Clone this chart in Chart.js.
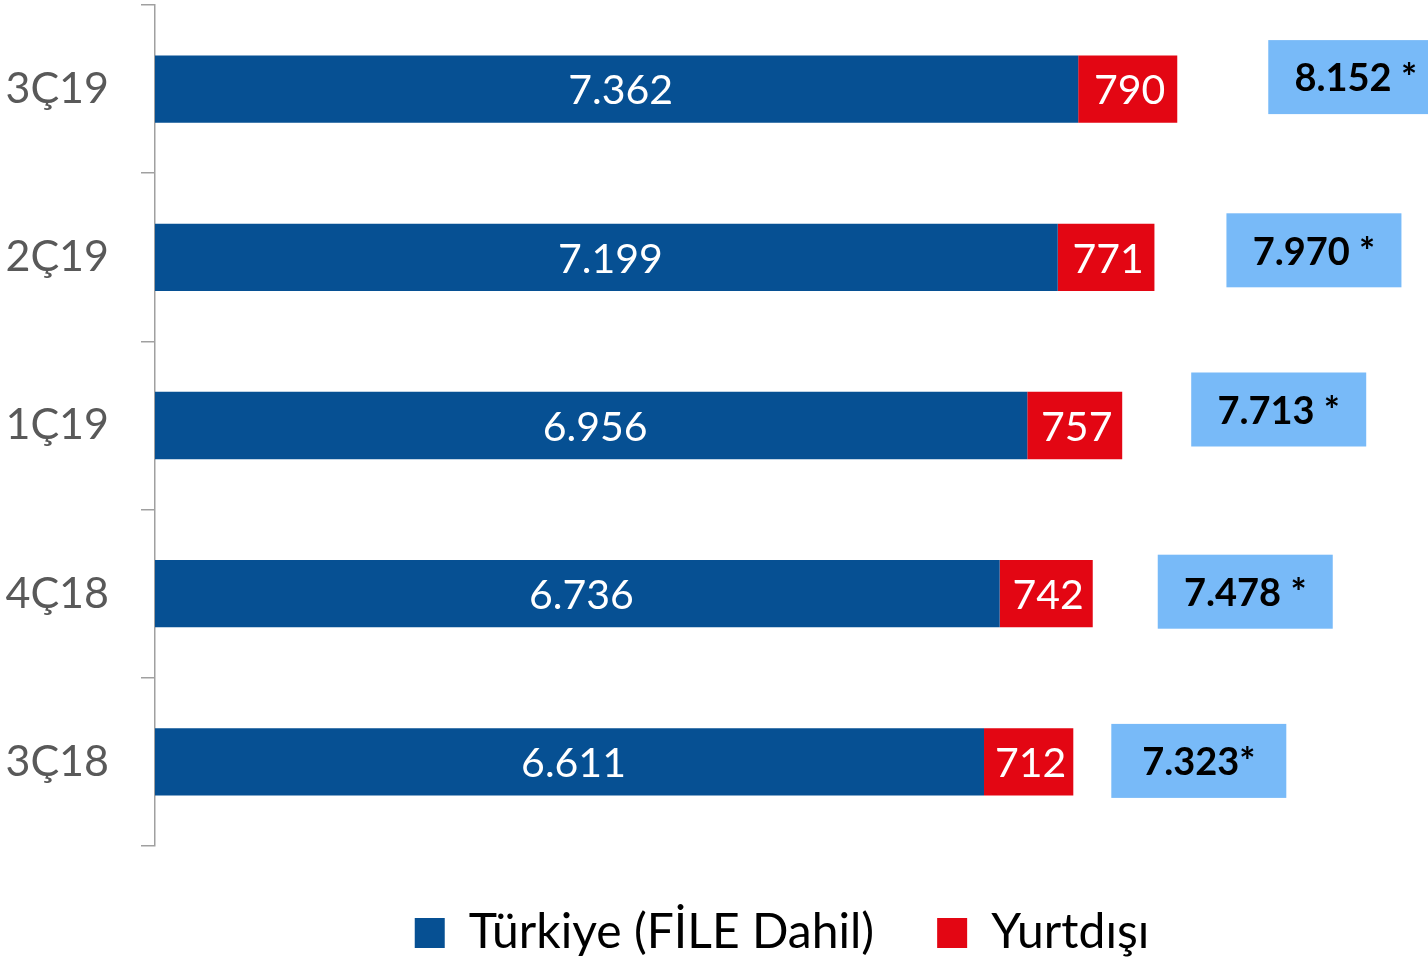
<!DOCTYPE html>
<html>
<head>
<meta charset="utf-8">
<script src="https://cdn.jsdelivr.net/npm/chart.js@4"></script>
<style>
  html, body { margin: 0; padding: 0; background: #ffffff; }
  #wrap { width: 1428px; height: 961px; position: relative; }
</style>
</head>
<body>
<div id="wrap"><canvas id="c" width="1428" height="961"></canvas></div>
<script>
const categories = ['3Ç19', '2Ç19', '1Ç19', '4Ç18', '3Ç18'];
const turkiyeValues = [7362, 7199, 6956, 6736, 6611];
const yurtdisiValues = [790, 771, 757, 742, 712];
const totalSuffixes = [' *', ' *', ' *', ' *', '*'];
const seriesNames = ['Türkiye (FİLE Dahil)', 'Yurtdışı'];

const FONT = 'Lato, "Noto Sans", sans-serif';

function fmt(v) {
  return String(v).replace(/\B(?=(\d{3})+(?!\d))/g, '.');
}

// box placement tweaks (pixel offsets relative to the end of each stacked bar)
const boxShiftX = [91, 72, 69, 65, 38];
const boxShiftY = [-12, -7, -16, -2, -1];

const labelPlugin = {
  id: 'labels',
  afterDatasetsDraw(chart) {
    const ctx = chart.ctx;
    ctx.save();
    ctx.textAlign = 'center';
    ctx.textBaseline = 'middle';
    ctx.fillStyle = '#ffffff';
    ctx.font = '41px ' + FONT;
    chart.data.datasets.forEach((ds, di) => {
      const meta = chart.getDatasetMeta(di);
      meta.data.forEach((bar, i) => {
        const p = bar.getProps(['x', 'y', 'base'], true);
        const shift = di === 0 ? 4 : 2;
        ctx.fillText(fmt(ds.data[i]), (p.x + p.base) / 2 + shift, p.y + 2);
      });
    });
    // totals
    const top = chart.getDatasetMeta(1);
    top.data.forEach((bar, i) => {
      const p = bar.getProps(['x', 'y'], true);
      const total = turkiyeValues[i] + yurtdisiValues[i];
      const bw = 175, bh = 74;
      const bx = p.x + boxShiftX[i];
      const cy = p.y + boxShiftY[i];
      ctx.fillStyle = '#78BAF8';
      ctx.fillRect(bx, cy - bh / 2, bw, bh);
      ctx.fillStyle = '#000000';
      ctx.font = 'bold 38px ' + FONT;
      ctx.fillText(fmt(total) + totalSuffixes[i], bx + bw / 2, cy + 2);
    });
    ctx.restore();
  }
};

new Chart(document.getElementById('c'), {
  type: 'bar',
  data: {
    labels: categories,
    datasets: [
      { label: seriesNames[0], data: turkiyeValues, backgroundColor: '#065093', borderWidth: 0 },
      { label: seriesNames[1], data: yurtdisiValues, backgroundColor: '#E30613', borderWidth: 0 }
    ]
  },
  options: {
    indexAxis: 'y',
    responsive: false,
    animation: false,
    devicePixelRatio: 1,
    layout: { padding: { top: 5, right: 19, bottom: -6, left: 0 } },
    datasets: { bar: { categoryPercentage: 1, barPercentage: 0.4 } },
    scales: {
      x: { stacked: true, min: 0, max: 10000, display: false },
      y: {
        stacked: true,
        afterFit: (s) => { s.width = 155; s.paddingTop = 0; s.paddingBottom = 0; },
        grid: { offset: true, drawOnChartArea: false, tickLength: 14, color: '#A0A0A0', lineWidth: 1.5 },
        border: { display: true, color: '#A0A0A0', width: 1.5 },
        ticks: { color: '#595959', padding: 32, font: { family: FONT, size: 43 } }
      }
    },
    plugins: {
      legend: {
        position: 'bottom',
        fullSize: false,
        labels: {
          boxWidth: 30, boxHeight: 30, padding: 63, color: '#000000',
          font: { family: FONT, size: 48 }
        }
      },
      tooltip: { enabled: false }
    }
  },
  plugins: [labelPlugin]
});
</script>
</body>
</html>
